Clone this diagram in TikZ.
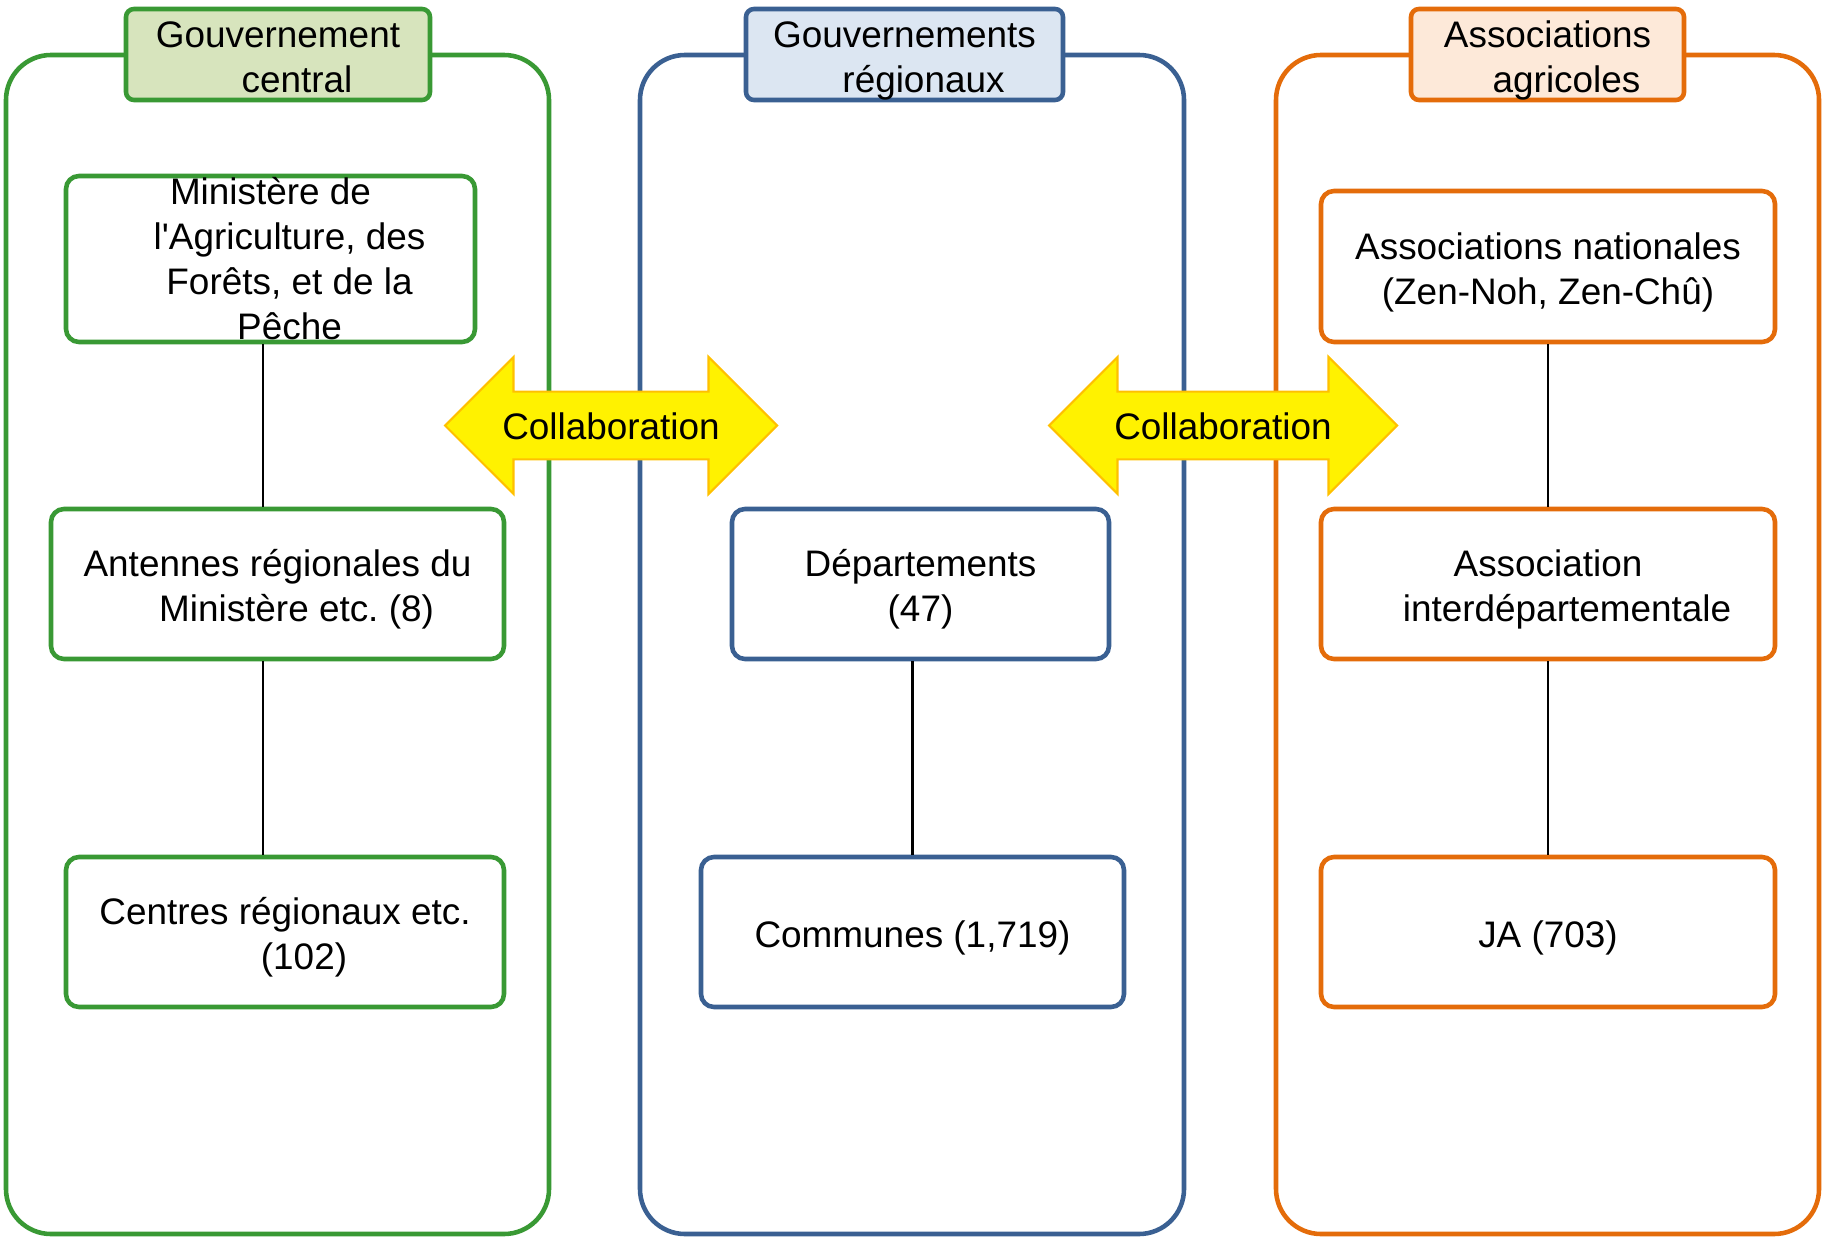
\documentclass[tikz,border=0pt]{standalone}
\usepackage{fontspec}
\setmainfont{Liberation Sans}
\usepackage{tikz}
\usetikzlibrary{shapes.arrows}
\definecolor{grnline}{RGB}{57,153,52}
\definecolor{grnfill}{RGB}{215,228,189}
\definecolor{bluline}{RGB}{58,96,146}
\definecolor{blufill}{RGB}{220,230,242}
\definecolor{orgline}{RGB}{228,108,10}
\definecolor{orgfill}{RGB}{253,233,217}
\definecolor{arrline}{RGB}{255,192,0}
\newcommand{\tTop}{\rule{0pt}{1.03em}}
\newcommand{\tBot}{\rule[-0.212em]{0pt}{0pt}}
\newcommand{\tSk}{\\\hspace*{0.38cm}}
\frenchspacing

\begin{document}
\begin{tikzpicture}[x=1cm,y=-1cm,font=\fontsize{10.5}{12.8}\selectfont,
		frame/.style={draw,line width=1.3pt,rounded corners=4.5mm,minimum height=11.79cm,inner sep=0pt},
		title/.style={draw,line width=1.3pt,rounded corners=0.8mm,align=center,minimum height=9.1mm,inner sep=0pt},
		unit/.style={draw,line width=1.3pt,rounded corners=1.3mm,align=center,minimum height=15mm,inner sep=0pt},
		link/.style={line width=0.6pt},
		collab/.style={double arrow,double arrow head extend=3.45mm,minimum width=13.7mm,minimum height=33.2mm,
			fill=yellow,draw=arrline,line width=0.6pt,text height=1.03em,text depth=0.212em,inner xsep=0pt,inner ysep=1.1mm}]
		\useasboundingbox (0,0) rectangle (18.25,12.39);
		
		\node[frame,draw=grnline,minimum width=5.43cm] (frameG) at (2.775,6.445) {};
		\node[frame,draw=bluline,minimum width=5.44cm] (frameB) at (9.12,6.445) {};
		\node[frame,draw=orgline,minimum width=5.43cm] (frameO) at (15.475,6.445) {};
		
		\node[title,draw=grnline,fill=grnfill,minimum width=3.04cm] (headG) at (2.78,0.545) {\tTop Gouvernement\tSk central\tBot};
		\node[title,draw=bluline,fill=blufill,minimum width=3.17cm] (headB) at (9.045,0.545) {\tTop Gouvernements\tSk régionaux\tBot};
		\node[title,draw=orgline,fill=orgfill,minimum width=2.73cm] (headO) at (15.475,0.545) {\tTop Associations\tSk agricoles\tBot};
		
		\node[unit,draw=grnline,minimum width=4.09cm,minimum height=16.6mm] (mini) at (2.705,2.59) {Ministère de\tSk l\textquotesingle Agriculture, des\tSk Forêts, et de la\tSk Pêche};
		\node[unit,draw=grnline,minimum width=4.53cm] (ante) at (2.775,5.84) {\tTop Antennes régionales du\tSk Ministère etc. (8)\tBot};
		\node[unit,draw=grnline,minimum width=4.38cm] (cent) at (2.85,9.32) {\tTop Centres régionaux etc.\tSk (102)\tBot};
		\node[unit,draw=bluline,minimum width=3.77cm] (dept) at (9.205,5.84) {\tTop Départements\\(47)\tBot};
		\node[unit,draw=bluline,minimum width=4.23cm] (comm) at (9.125,9.32) {\tTop Communes (1,719)\tBot};
		\node[unit,draw=orgline,minimum width=4.54cm,minimum height=15.1mm] (natl) at (15.48,2.665) {\tTop Associations nationales\\(Zen-Noh, Zen-Chû)\tBot};
		\node[unit,draw=orgline,minimum width=4.54cm] (inter) at (15.48,5.84) {\tTop Association\tSk interdépartementale\tBot};
		\node[unit,draw=orgline,minimum width=4.54cm] (ja) at (15.48,9.32) {\tTop JA (703)\tBot};
		
		\coordinate (spineG) at (2.63,0);
		\draw[link] (mini.south -| spineG) -- (ante.north -| spineG);
		\draw[link] (ante.south -| spineG) -- (cent.north -| spineG);
		\draw[link] (comm.north) -- (dept.south -| comm.north);
		\draw[link] (natl.south) -- (inter.north);
		\draw[link] (inter.south) -- (ja.north);
		
		\node[collab] (collabL) at (6.11,4.255) {Collaboration};
		\node[collab,minimum height=34.8mm] (collabR) at (12.23,4.255) {Collaboration};
\end{tikzpicture}
\end{document}
